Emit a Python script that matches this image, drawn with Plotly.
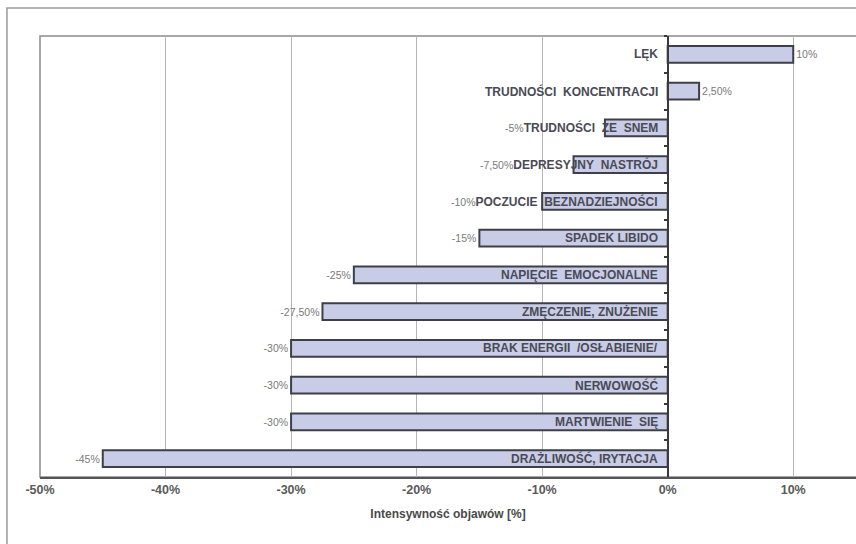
import plotly.graph_objects as go

categories = [
    "LĘK",
    "TRUDNOŚCI  KONCENTRACJI",
    "TRUDNOŚCI  ZE  SNEM",
    "DEPRESYJNY  NASTRÓJ",
    "POCZUCIE  BEZNADZIEJNOŚCI",
    "SPADEK LIBIDO",
    "NAPIĘCIE  EMOCJONALNE",
    "ZMĘCZENIE, ZNUŻENIE",
    "BRAK ENERGII  /OSŁABIENIE/",
    "NERWOWOŚĆ",
    "MARTWIENIE  SIĘ",
    "DRAŻLIWOŚĆ, IRYTACJA",
]
values = [10, 2.5, -5, -7.5, -10, -15, -25, -27.5, -30, -30, -30, -45]
tick_vals = [-50, -40, -30, -20, -10, 0, 10]
tick_text = ["-50%", "-40%", "-30%", "-20%", "-10%", "0%", "10%"]
x_range = [-50, 15]
x_title = "Intensywność objawów [%]"


def fmt(v):
    if float(v).is_integer():
        return f"{int(v)}%"
    return f"{v:.2f}".replace(".", ",") + "%"


FONT = "Liberation Sans, Arial, sans-serif"
CAT_SIZE = 12
VAL_SIZE = 10.5
PLOT_W = 816
px_per_unit = PLOT_W / (x_range[1] - x_range[0])

bar_text = []
ann_text = []
for c, v in zip(categories, values):
    label = c.replace("  ", "\u00a0\u00a0")
    est_w = len(c) * CAT_SIZE * 0.72 + 8
    if v < 0 and est_w > abs(v) * px_per_unit:
        # category text reaches beyond the bar end: value label sits just before it
        bar_text.append("")
        ann_text.append(
            f"<span style='font-size:{VAL_SIZE}px;font-weight:normal;color:#7a7a7a'>{fmt(v)}</span>" + label
        )
    else:
        bar_text.append(fmt(v))
        ann_text.append(label)

fig = go.Figure()
fig.add_trace(go.Bar(
    x=values, y=categories, orientation="h",
    marker=dict(color="#c9cce6", line=dict(color="#3e3f48", width=2)),
    text=bar_text, textposition="outside", cliponaxis=False,
    textfont=dict(family=FONT, size=VAL_SIZE, color="#7a7a7a"),
    width=0.45,
))

zero_pos = (0 - x_range[0]) / (x_range[1] - x_range[0])

for c, t in zip(categories, ann_text):
    fig.add_annotation(
        x=0, y=c, xref="x", yref="y", text=t,
        showarrow=False, xanchor="right", xshift=-8,
        font=dict(family=FONT, size=CAT_SIZE, color="#4a4a55", weight="bold"),
    )

# outer frame
fig.add_shape(type="rect", xref="paper", yref="paper",
              x0=-0.0405, x1=1.05, y0=-0.2, y1=1.0635,
              line=dict(color="#9a9a9a", width=1.5), fillcolor="rgba(0,0,0,0)", layer="below")
# plot area frame
fig.add_shape(type="rect", xref="paper", yref="paper",
              x0=0, x1=1.02, y0=0, y1=1,
              line=dict(color="#8a8a8a", width=1.5), fillcolor="rgba(0,0,0,0)", layer="below")

fig.update_layout(
    width=856, height=544,
    margin=dict(l=40, r=0, t=36, b=67),
    paper_bgcolor="white", plot_bgcolor="white",
    showlegend=False, bargap=0.55,
    xaxis=dict(
        range=x_range, tickvals=tick_vals, ticktext=tick_text,
        showgrid=True, gridcolor="#b5b5b5", gridwidth=1,
        zeroline=False, showline=True, linecolor="#555", linewidth=1.5,
        ticks="", ticklen=0,
        tickfont=dict(family=FONT, size=12.5, color="#5a5a5a", weight="bold"),
        title=dict(text=x_title, standoff=14,
                   font=dict(family=FONT, size=12, color="#4a4a4a", weight="bold")),
    ),
    yaxis=dict(
        autorange="reversed", showticklabels=False, showgrid=False,
        anchor="free", position=zero_pos, side="left",
        showline=True, linecolor="#3a3a3a", linewidth=2,
        ticks="outside", ticklen=3, tickcolor="#3a3a3a", tickwidth=2,
        tickson="boundaries",
    ),
)

fig.write_html("out.html")
